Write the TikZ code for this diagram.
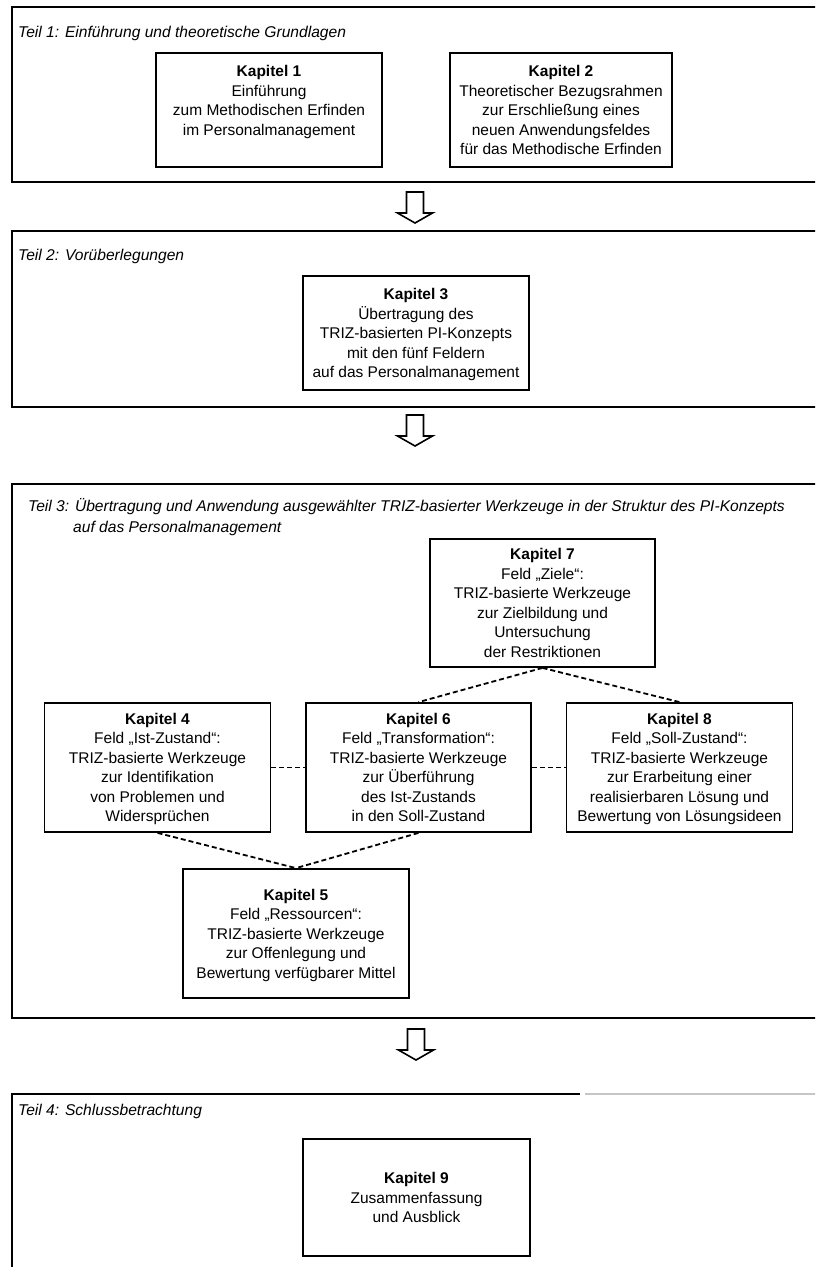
\documentclass[tikz,border=0pt]{standalone}
\usepackage{fontspec}
\setmainfont{Liberation Sans}
\usetikzlibrary{calc}
\tikzset{
  box/.style={draw, line width=1.8pt, minimum width=226pt, minimum height=129pt,
    align=center, inner sep=0pt, font=\fontsize{15.5}{19.5}\selectfont,
    text depth=0pt},
  frame/.style={draw, line width=2.2pt, inner sep=0pt, minimum width=818pt},
  parttitle/.style={font=\fontsize{15.6}{21}\selectfont\itshape, anchor=base west, inner sep=0pt},
  link/.style={line width=1.8pt, dash pattern=on 5pt off 3pt},
  hollow/.style={line width=1.6pt, line join=miter},
  downarrow/.pic={\draw[hollow] (-8.5,0) -- (-8.5,21) -- (-17.5,21) -- (0,31) -- (17.5,21) -- (8.5,21) -- (8.5,0) -- cycle;}
}
\begin{document}
\begin{tikzpicture}[x=1pt, y=-1pt]
\useasboundingbox (0,0) rectangle (815,1267);
\clip (0,0) rectangle (815,1267);
\fill[white] (0,0) rectangle (815,1267);

% frames
\node[frame, minimum height=175pt] (f1) at (421,94.5) {};
\node[frame, minimum height=176pt] (f2) at (421,319) {};
\node[frame, minimum height=534pt] (f3) at (421,751) {};
\coordinate (f4sw) at (12,1300);
\coordinate (f4nw) at (12,1094);
\coordinate (f4gap) at (580,1094);
\coordinate (f4gapb) at (585,1094);
\coordinate (f4ne) at (830,1094);
\draw[line width=2.2pt] (f4sw) -- (f4nw) -- (f4gap);
\draw[line width=1.5pt, gray!45] (f4gapb) -- (f4ne);

% titles
\node[parttitle] (t1) at (18,37) {Teil 1: Einführung und theoretische Grundlagen};
\node[parttitle] (t2) at (18,260) {Teil 2: Vorüberlegungen};
\node[parttitle] (t3) at (28,511) {Teil 3: Übertragung und Anwendung ausgewählter TRIZ-basierter Werkzeuge in der Struktur des PI-Konzepts};
\node[parttitle] (t3b) at (73,532) {auf das Personalmanagement};
\node[parttitle] (t4) at (18,1115) {Teil 4: Schlussbetrachtung};

% boxes
\node[box, minimum height=114pt] (k1) at (269,110)
  {\textbf{Kapitel 1}\\ Einführung\\ zum Methodischen Erfinden\\ im Personalmanagement\\ \mbox{}};
\node[box, minimum height=114pt, minimum width=222pt] (k2) at (561,110)
  {\textbf{Kapitel 2}\\ Theoretischer Bezugsrahmen\\ zur Erschließung eines\\ neuen Anwendungsfeldes\\ für das Methodische Erfinden};
\node[box, minimum height=114pt] (k3) at (416,333)
  {\textbf{Kapitel 3}\\ Übertragung des\\ TRIZ-basierten PI-Konzepts\\ mit den fünf Feldern\\ auf das Personalmanagement};
\node[box, minimum height=128pt, minimum width=225pt] (k7) at (542.5,603)
  {\textbf{Kapitel 7}\\ Feld „Ziele“:\\ TRIZ-basierte Werkzeuge\\ zur Zielbildung und\\ Untersuchung\\ der Restriktionen};
\node[box] (k4) at (157.5,767.5)
  {\textbf{Kapitel 4}\\ Feld „Ist-Zustand“:\\ TRIZ-basierte Werkzeuge\\ zur Identifikation\\ von Problemen und\\ Widersprüchen};
\node[box, minimum width=225pt] (k6) at (418.5,767.5)
  {\textbf{Kapitel 6}\\ Feld „Transformation“:\\ TRIZ-basierte Werkzeuge\\ zur Überführung\\ des Ist-Zustands\\ in den Soll-Zustand};
\node[box] (k8) at (679.5,767.5)
  {\textbf{Kapitel 8}\\ Feld „Soll-Zustand“:\\ TRIZ-basierte Werkzeuge\\ zur Erarbeitung einer\\ realisierbaren Lösung und\\ Bewertung von Lösungsideen};
\node[box] (k5) at (296,933.5)
  {\textbf{Kapitel 5}\\ Feld „Ressourcen“:\\ TRIZ-basierte Werkzeuge\\ zur Offenlegung und\\ Bewertung verfügbarer Mittel};
\node[box, minimum height=117pt, minimum width=227pt] (k9) at (416.5,1197.5)
  {\textbf{Kapitel 9}\\ Zusammenfassung\\ und Ausblick};

% dashed links
\draw[link] (k7.south) -- (k6.north);
\draw[link] (k7.south) -- (k8.north);
\draw[link] (k4.east) -- (k6.west);
\draw[link] (k6.east) -- (k8.west);
\draw[link] (k4.south) -- (k5.north);
\draw[link] (k6.south) -- (k5.north);

% hollow arrows between parts
\coordinate (a1) at (415,192);
\coordinate (a2) at (415,415);
\coordinate (a3) at (416,1029);
\pic at (a1) {downarrow};
\pic at (a2) {downarrow};
\pic at (a3) {downarrow};
\end{tikzpicture}
\end{document}
